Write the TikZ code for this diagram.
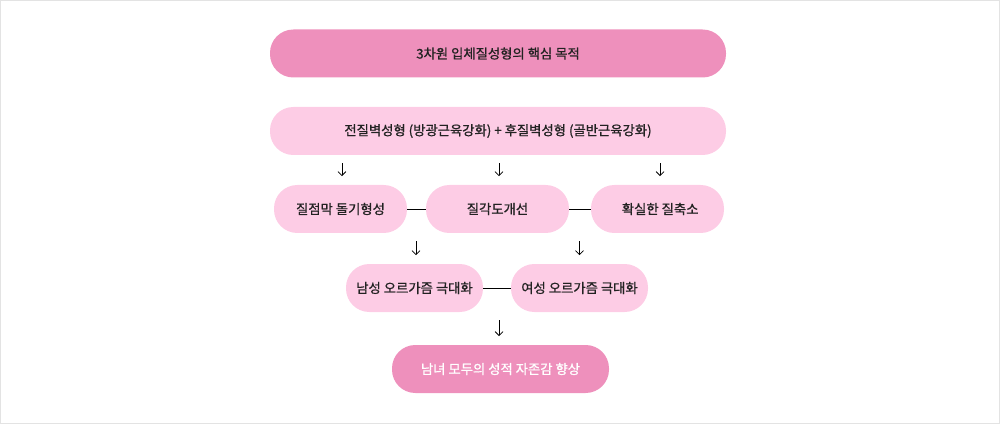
\documentclass[tikz,border=0pt]{standalone}
\usepackage{fontspec}
\setmainfont{Noto Sans CJK KR}
\newfontfamily\medfont[FakeBold=0.9]{Noto Sans CJK KR}
\usetikzlibrary{arrows.meta}
\definecolor{pinkD}{HTML}{EE90BC}
\definecolor{pinkL}{HTML}{FDCCE5}
\definecolor{frameC}{HTML}{E3E3E3}
\definecolor{txt}{HTML}{222222}
\begin{document}
\begin{tikzpicture}[x=0.75pt,y=-0.75pt,
  pill/.style={rectangle, rounded corners=17.5pt, inner sep=0pt, minimum height=36pt,
    font=\medfont\fontsize{10}{12}\selectfont, text=txt},
  dark/.style={pill, fill=pinkD},
  light/.style={pill, fill=pinkL},
  link/.style={draw=black, line width=0.6pt},
  arr/.style={draw=black, line width=0.55pt, -{Straight Barb[length=3pt,width=6pt]},
    shorten <=6pt, shorten >=6.5pt}]
\useasboundingbox (0,0) rectangle (1000,424);
\draw[frameC, line width=0.75pt] (0.5,0.5) rectangle (999.5,423.5);
\node[dark, minimum width=342pt] (top) at (498,53.5) {3차원 입체질성형의 핵심 목적};
\node[light, minimum width=342pt] (base) at (498,131) {전질벽성형 (방광근육강화) + 후질벽성형 (골반근육강화)};
\node[light, minimum width=99.75pt] (r3a) at (340.5,209) {질점막 돌기형성};
\node[light, minimum width=107.25pt] (r3b) at (497.5,209) {질각도개선};
\node[light, minimum width=99.75pt] (r3c) at (657.5,209) {\hspace*{4pt}확실한 질축소};
\node[light, minimum width=102.75pt] (r4a) at (414.5,288) {남성 오르가즘 극대화};
\node[light, minimum width=102.75pt] (r4b) at (579.5,288) {여성 오르가즘 극대화};
\node[dark, minimum width=162.75pt, text=white] (fin) at (500.5,369) {남녀 모두의 성적 자존감 향상};
\draw[link] (r3a.east) -- (r3b.west);
\draw[link] (r3b.east) -- (r3c.west);
\draw[link] (r4a.east) -- (r4b.west);
\draw[arr] ([xshift=1.1pt]base.south -| r3a) -- ([xshift=1.1pt]r3a.north);
\draw[arr] ([xshift=1.1pt]base.south -| r3b) -- ([xshift=1.1pt]r3b.north);
\draw[arr] ([xshift=1.9pt]base.south -| r3c) -- ([xshift=1.9pt]r3c.north);
\draw[arr] ([xshift=1.1pt]r3a.south -| r4a) -- ([xshift=1.1pt]r4a.north);
\draw[arr] (r3b.south -| r4b) -- (r4b.north);
\draw[arr] ([xshift=-1.1pt]r4a.south -| fin) -- ([xshift=-1.1pt]fin.north);
\end{tikzpicture}
\end{document}
